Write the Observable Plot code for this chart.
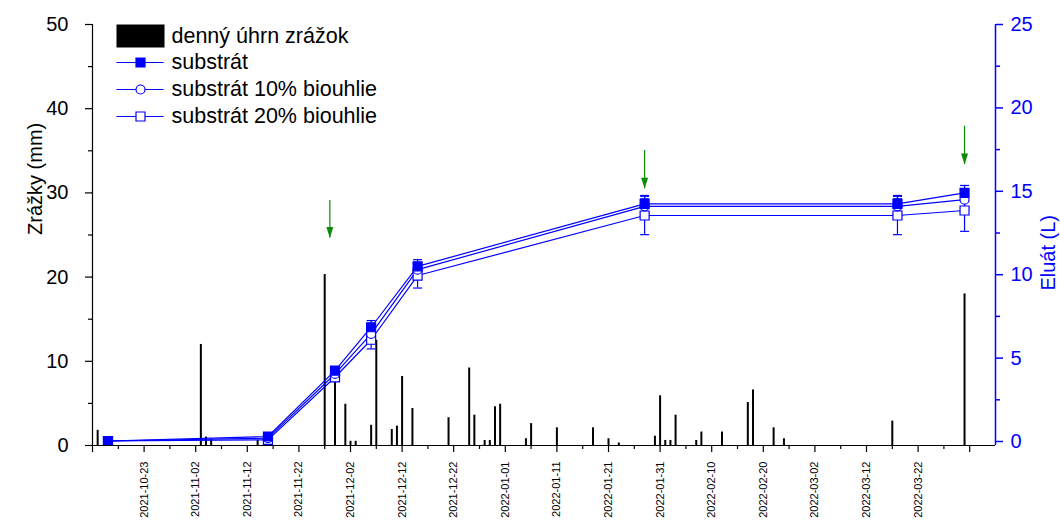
<!DOCTYPE html>
<html>
<head>
<meta charset="utf-8">
<script src="https://cdn.jsdelivr.net/npm/d3@7"></script>
<script src="https://cdn.jsdelivr.net/npm/@observablehq/plot@0.6"></script>
<style>
  html, body { margin: 0; padding: 0; background: #fff; }
  #chart { width: 1060px; height: 521px; }
</style>
</head>
<body>
<div id="chart"></div>
<script>
// ---- precipitation (daily totals, mm) ----
const barDates = ["2021-10-14","2021-11-03","2021-11-04","2021-11-05","2021-11-14","2021-11-27","2021-11-29",
  "2021-12-01","2021-12-02","2021-12-03","2021-12-06","2021-12-07","2021-12-10","2021-12-11","2021-12-12",
  "2021-12-14","2021-12-21","2021-12-25","2021-12-26","2021-12-28","2021-12-29","2021-12-30","2021-12-31",
  "2022-01-05","2022-01-06","2022-01-11","2022-01-18","2022-01-21","2022-01-23","2022-01-30","2022-01-31",
  "2022-02-01","2022-02-02","2022-02-03","2022-02-07","2022-02-08","2022-02-12","2022-02-17","2022-02-18",
  "2022-02-22","2022-02-24","2022-03-17","2022-03-31"];
const barValues = [1.8,12.0,1.0,0.7,0.6,20.3,8.3,
  4.9,0.5,0.5,2.4,12.5,1.9,2.3,8.2,
  4.4,3.3,9.2,3.6,0.6,0.6,4.6,4.9,
  0.8,2.6,2.1,2.1,0.8,0.3,1.1,5.9,
  0.6,0.6,3.6,0.6,1.6,1.6,5.1,6.6,
  2.1,0.8,2.9,18.0];

// ---- eluate (L) ----
const measureDates = ["2021-10-16","2021-11-16","2021-11-29","2021-12-06","2021-12-15","2022-01-28","2022-03-18","2022-03-31"];
const eluatSubstrat = [0.03,0.30,4.25,6.85,10.50,14.25,14.25,14.90];
const eluatBio10    = [0.03,0.20,4.05,6.45,10.30,14.10,14.10,14.50];
const eluatBio20    = [0.03,0.10,3.85,6.10, 9.95,13.55,13.55,13.85];
const errSubstrat   = [0.02,0.05,0.15,0.40,0.40,0.50,0.50,0.45];
const errBio10      = [0.02,0.05,0.15,0.35,0.40,0.45,0.45,0.45];
const errBio20      = [0.02,0.05,0.20,0.55,0.75,1.15,1.15,1.25];
const seriesNames   = ["substrát","substrát 10% biouhlie","substrát 20% biouhlie"];
const barName       = "denný úhrn zrážok";

// ---- green arrows (L) ----
const arrowDates = ["2021-11-28","2022-01-28","2022-03-31"];
const arrowTop   = [14.45,17.45,18.9];
const arrowTip   = [12.2,15.15,16.6];

// ---- axes ----
const xDomain = ["2021-10-13","2022-04-06"];
const xMajorTicks = ["2021-10-13","2021-10-23","2021-11-02","2021-11-12","2021-11-22","2021-12-02","2021-12-12",
  "2021-12-22","2022-01-01","2022-01-11","2022-01-21","2022-01-31","2022-02-10","2022-02-20","2022-03-02",
  "2022-03-12","2022-03-22","2022-04-01"];
const xTickLabels = ["2021-10-23","2021-11-02","2021-11-12","2021-11-22","2021-12-02","2021-12-12",
  "2021-12-22","2022-01-01","2022-01-11","2022-01-21","2022-01-31","2022-02-10","2022-02-20","2022-03-02",
  "2022-03-12","2022-03-22"];
const leftTicks = [0,10,20,30,40,50];
const leftMinor = [5,15,25,35,45];
const rightTicks = [0,5,10,15,20,25];
const rightMinor = [2.5,7.5,12.5,17.5,22.5];
const leftTitle = "Zrážky (mm)";
const rightTitle = "Eluát (L)";

// right axis (L) mapped onto the left (mm) scale
const eluatMin = -0.24, eluatMax = 25, mmMax = 50;
const toMM = v => (v - eluatMin) * mmMax / (eluatMax - eluatMin);
const fromMM = m => m * (eluatMax - eluatMin) / mmMax + eluatMin;

const P = d3.utcParse("%Y-%m-%d");
const BLUE = "#0000ff", GREEN = "#0b8c0b";
const FONT = "Arial, 'Liberation Sans', sans-serif";

const bars = barDates.map((d, i) => ({date: P(d), value: barValues[i]}));
const seriesVals = [eluatSubstrat, eluatBio10, eluatBio20];
const seriesErr = [errSubstrat, errBio10, errBio20];
const series = seriesNames.map((name, s) => measureDates.map((d, i) => ({
  name, date: P(d), v: seriesVals[s][i], lo: seriesVals[s][i] - seriesErr[s][i], hi: seriesVals[s][i] + seriesErr[s][i]
})));
const arrows = arrowDates.map((d, i) => ({date: P(d), top: arrowTop[i], tip: arrowTip[i]}));
const majors = xMajorTicks.map(P);
const minors = majors.map(d => d3.utcDay.offset(d, 5)).filter(d => d < P(xDomain[1]));

// custom symbols
const capSym = {draw(c){ c.moveTo(-4.5,0); c.lineTo(4.5,0); }};
const headSym = {draw(c){ c.moveTo(0,0); c.lineTo(-3.5,-11); c.lineTo(3.5,-11); c.closePath(); }};
const rectSym = {draw(c){ c.rect(-24,-11.5,48,23); }};
const segSym = {draw(c){ c.moveTo(-23.5,0); c.lineTo(23.5,0); }};
const squareSym = {draw(c){ c.rect(-4.5,-4.5,9,9); }};
const circleSym = {draw(c){ c.moveTo(4.5,0); c.arc(0,0,4.5,0,2*Math.PI); }};
const markers = [
  {symbol: squareSym, fill: BLUE},
  {symbol: circleSym, fill: "white"},
  {symbol: squareSym, fill: "white"}
];

const marks = [];
// bars
marks.push(Plot.ruleX(bars, {x: "date", y1: 0, y2: "value", stroke: "black", strokeWidth: 2}));
// series drawn 20% first, substrát last
for (const s of [2,1,0]) {
  const data = series[s];
  marks.push(Plot.line(data, {x: "date", y: d => toMM(d.v), stroke: BLUE, strokeWidth: 1.2}));
}
for (const s of [2,1,0]) {
  const data = series[s];
  marks.push(Plot.ruleX(data, {x: "date", y1: d => toMM(d.lo), y2: d => toMM(d.hi), stroke: BLUE, strokeWidth: 1.2}));
  marks.push(Plot.dot(data, {x: "date", y: d => toMM(d.hi), symbol: capSym, fill: "none", stroke: BLUE, strokeWidth: 1.2}));
  marks.push(Plot.dot(data, {x: "date", y: d => toMM(d.lo), symbol: capSym, fill: "none", stroke: BLUE, strokeWidth: 1.2}));
}
for (const s of [2,1,0]) {
  const data = series[s];
  marks.push(Plot.dot(data, {x: "date", y: d => toMM(d.v), symbol: markers[s].symbol, fill: markers[s].fill, stroke: BLUE, strokeWidth: 1.2}));
}
// arrows
marks.push(Plot.ruleX(arrows, {x: "date", y1: d => toMM(d.top), y2: d => toMM(d.tip), stroke: GREEN, strokeWidth: 1.2}));
marks.push(Plot.dot(arrows, {x: "date", y: d => toMM(d.tip), symbol: headSym, fill: GREEN, stroke: "none"}));

// axes lines
marks.push(Plot.ruleY([0], {stroke: "black", strokeWidth: 1.2}));
marks.push(Plot.ruleX([P(xDomain[0])], {stroke: "black", strokeWidth: 1.2}));
marks.push(Plot.ruleX([P(xDomain[1])], {stroke: BLUE, strokeWidth: 1.5}));

// x axis
marks.push(Plot.axisX({ticks: majors, tickSize: 7, tickFormat: () => "", strokeWidth: 1.2}));
marks.push(Plot.axisX({ticks: minors, tickSize: 4, tickFormat: () => "", strokeWidth: 1.2}));
marks.push(Plot.axisX({ticks: xTickLabels.map(P), tickSize: 0, tickPadding: 16, tickRotate: -90,
  tickFormat: d3.utcFormat("%Y-%m-%d"), fontSize: 11, label: null}));

// left y axis
marks.push(Plot.axisY({ticks: leftTicks, tickSize: 7, tickPadding: 17, fontSize: 20, label: null, strokeWidth: 1.2}));
marks.push(Plot.axisY({ticks: leftMinor, tickSize: 4, tickFormat: () => "", label: null, strokeWidth: 1.2}));
// right y axis (eluát)
marks.push(Plot.axisY({anchor: "right", ticks: rightTicks.map(toMM), tickFormat: d => String(Math.round(fromMM(d))),
  tickSize: 7, tickPadding: 8, fontSize: 20, color: BLUE, label: null, strokeWidth: 1.5}));
marks.push(Plot.axisY({anchor: "right", ticks: rightMinor.map(toMM), tickFormat: () => "", tickSize: 4,
  color: BLUE, label: null, strokeWidth: 1.5}));

// axis titles
marks.push(Plot.text([leftTitle], {text: d => d, frameAnchor: "left", dx: -57, rotate: -90, fontSize: 20, fill: "black"}));
marks.push(Plot.text([rightTitle], {text: d => d, frameAnchor: "right", dx: 53, dy: -20, rotate: -90, fontSize: 20, fill: BLUE}));

// legend (inside plot, top-left)
const legendRowsDy = [12, 38, 65, 92];
marks.push(Plot.dot([0], {frameAnchor: "top-left", dx: 48, dy: 11.5, symbol: rectSym, fill: "black", stroke: "none"}));
marks.push(Plot.text([barName], {text: d => d, frameAnchor: "top-left", dx: 79, dy: legendRowsDy[0], textAnchor: "start", lineAnchor: "middle", fontSize: 21.5, fill: "black"}));
seriesNames.forEach((name, s) => {
  const dy = legendRowsDy[s + 1];
  marks.push(Plot.dot([0], {frameAnchor: "top-left", dx: 47.5, dy, symbol: segSym, fill: "none", stroke: BLUE, strokeWidth: 1.2}));
  marks.push(Plot.dot([0], {frameAnchor: "top-left", dx: 48, dy, symbol: markers[s].symbol, fill: markers[s].fill, stroke: BLUE, strokeWidth: 1.2}));
  marks.push(Plot.text([name], {text: d => d, frameAnchor: "top-left", dx: 79, dy, textAnchor: "start", lineAnchor: "middle", fontSize: 21.5, fill: "black"}));
});

const chart = Plot.plot({
  width: 1060,
  height: 521,
  marginLeft: 92,
  marginRight: 65,
  marginTop: 24,
  marginBottom: 76,
  style: {fontFamily: FONT, fontSize: "20px", background: "white", overflow: "visible", color: "black"},
  x: {type: "utc", domain: xDomain.map(P)},
  y: {domain: [0, mmMax], label: null},
  marks
});
document.getElementById("chart").appendChild(chart);
</script>
</body>
</html>
